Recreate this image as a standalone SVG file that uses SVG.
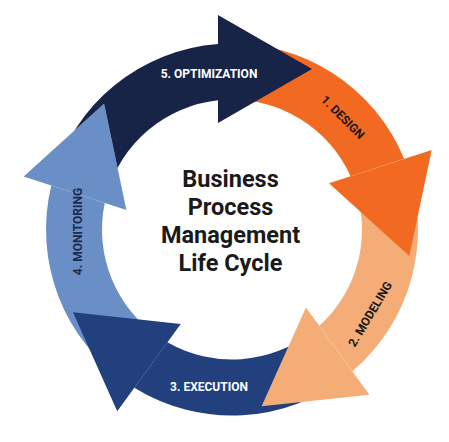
<svg xmlns="http://www.w3.org/2000/svg" xmlns:xlink="http://www.w3.org/1999/xlink" width="449" height="442" viewBox="0 0 449 442">
  <style>
    .lbl { font-family: Roboto, "Liberation Sans", Arial, sans-serif; font-weight: 700; font-size: 12px; text-anchor: middle; }
    .light { fill: #ffffff; }
    .dark { fill: #161616; }
    .title { font-family: Roboto, "Liberation Sans", Arial, sans-serif; font-weight: 700; font-size: 23.5px; text-anchor: middle; fill: #1a1a1a; }
  </style>
  <defs>
    <path id="band" d="M53.21,178.23 A186,186 0 0 1 218,44.03 L218,100.26 A130,130 0 0 0 107.04,193.67 Z"/>
    <polygon id="head" points="218,15 312,69 218,123"/>
    <mask id="cutPrevHead" maskUnits="userSpaceOnUse" x="0" y="0" width="449" height="442">
      <rect x="0" y="0" width="449" height="442" fill="#fff"/>
      <use xlink:href="#head" transform="rotate(288 232 229.5)" fill="#000"/>
    </mask>
  </defs>
  <rect width="449" height="442" fill="#ffffff"/>

  <g id="connectors"></g>

  <g id="step4-monitoring">
    <g transform="rotate(288 232 229.5)" fill="#6a8ec6">
      <use xlink:href="#band"/>
      <use xlink:href="#head"/>
    </g>
    <text class="lbl" fill="#1c2a4c" transform="translate(77.5 231.5) rotate(-90)" y="4.3">4. MONITORING</text>
  </g>

  <g id="step3-execution">
    <g transform="rotate(216 232 229.5)" fill="#22407d">
      <use xlink:href="#band"/>
      <use xlink:href="#head"/>
    </g>
    <text class="lbl light" x="209" y="390.5">3. EXECUTION</text>
  </g>

  <g id="step2-modeling">
    <g transform="rotate(144 232 229.5)" fill="#f5ad78">
      <use xlink:href="#band"/>
      <use xlink:href="#head"/>
    </g>
    <text class="lbl dark" transform="translate(370 314) rotate(-59)" y="4.3">2. MODELING</text>
  </g>

  <g id="step1-design">
    <g transform="rotate(72 232 229.5)" fill="#f26a21">
      <use xlink:href="#band"/>
      <use xlink:href="#head"/>
    </g>
    <text class="lbl dark" transform="translate(343 117) rotate(45)" y="4.3">1. DESIGN</text>
  </g>

  <g id="step5-optimization">
    <g fill="#172447">
      <use xlink:href="#band" mask="url(#cutPrevHead)"/>
      <use xlink:href="#head"/>
    </g>
    <text class="lbl light" x="209" y="77.5">5. OPTIMIZATION</text>
  </g>

  <g id="center-title">
    <text class="title" x="230.5" y="187">Business</text>
    <text class="title" x="230.5" y="215">Process</text>
    <text class="title" x="230.5" y="243">Management</text>
    <text class="title" x="230.5" y="271">Life Cycle</text>
  </g>
</svg>
